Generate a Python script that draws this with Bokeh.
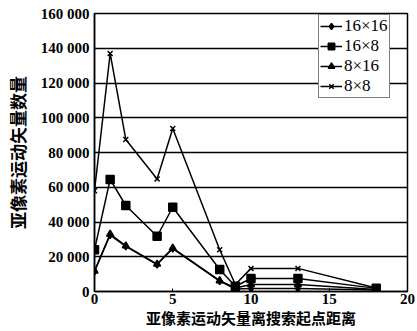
from bokeh.plotting import figure
from bokeh.models import Range1d, FixedTicker, Legend, LegendItem
from bokeh.embed import file_html
from bokeh.resources import INLINE

x_vals = [0, 1, 2, 4, 5, 8, 9, 10, 13, 18]
s16x16 = [11500, 32500, 26000, 15500, 24700, 6000, 1500, 1700, 1700, 800]
s16x8 = [24000, 64500, 49500, 31800, 48500, 12700, 3000, 7500, 7500, 1800]
s8x16 = [11800, 33000, 26300, 15800, 25000, 6200, 2000, 4000, 4000, 1200]
s8x8 = [58000, 137000, 87500, 64800, 93800, 24000, 4000, 13300, 13300, 2000]
series_names = ["16×16", "16×8", "8×16", "8×8"]
y_ticks = [0, 20000, 40000, 60000, 80000, 100000, 120000, 140000, 160000]
y_tick_labels = ["0", "20 000", "40 000", "60 000", "80 000", "100 000", "120 000", "140 000", "160 000"]
x_ticks = [0, 5, 10, 15, 20]
x_label = "亚像素运动矢量离搜索起点距离"
y_label = "亚像素运动矢量数量"

p = figure(output_backend="svg", toolbar_location=None,
           frame_width=313, frame_height=278,
           min_border_left=94, min_border_right=8, min_border_top=13, min_border_bottom=36,
           x_range=Range1d(0, 20), y_range=Range1d(0, 160000))
p.background_fill_color = "white"
p.border_fill_color = "white"
p.outline_line_color = "black"
p.outline_line_width = 1.5

p.xgrid.grid_line_color = None
p.ygrid.grid_line_color = "black"
p.ygrid.grid_line_width = 1.5
p.ygrid.ticker = FixedTicker(ticks=y_ticks)

p.yaxis.ticker = FixedTicker(ticks=y_ticks)
p.yaxis.major_label_overrides = {t: l for t, l in zip(y_ticks, y_tick_labels)}
p.xaxis.ticker = FixedTicker(ticks=x_ticks)
for ax in (p.xaxis, p.yaxis):
    ax.axis_line_color = "black"
    ax.axis_line_width = 1.5
    ax.major_tick_in = 3
    ax.major_tick_out = 0
    ax.minor_tick_line_color = None
    ax.major_tick_line_color = "black"
    ax.major_label_text_font = "Liberation Serif"
    ax.major_label_text_font_size = "15px"
    ax.major_label_text_font_style = "bold"
    ax.major_label_text_color = "black"
    ax.axis_label_text_font = "Noto Sans CJK SC"
    ax.axis_label_text_font_style = "bold"
    ax.axis_label_text_color = "black"
p.xaxis.axis_label_text_font_size = "15px"
p.yaxis.axis_label_text_font_size = "17px"
p.xaxis.major_label_standoff = 2
p.yaxis.major_label_standoff = 5
p.xaxis.axis_label = x_label
p.yaxis.axis_label = y_label
p.xaxis.axis_label_standoff = 0
p.yaxis.axis_label_standoff = 8

markers = ["diamond", "square", "triangle", "x"]
sizes = [7, 8, 7, 7]
data = [s16x16, s16x8, s8x16, s8x8]
items = []
for name, ys, mk, sz in zip(series_names, data, markers, sizes):
    r1 = p.line(x_vals, ys, line_color="black", line_width=1.5)
    r2 = p.scatter(x_vals, ys, marker=mk, size=sz, fill_color="black", line_color="black", line_width=1.5)
    items.append(LegendItem(label=name, renderers=[r1, r2]))

legend = Legend(items=items, location=(224, 193))
legend.border_line_color = "black"
legend.border_line_width = 1.2
legend.background_fill_alpha = 1
legend.padding = 1
legend.margin = 0
legend.spacing = 0
legend.label_height = 16
legend.glyph_height = 16
legend.glyph_width = 22
legend.label_standoff = 2
legend.label_text_font = "Liberation Serif"
legend.label_text_font_size = "17px"
legend.label_text_line_height = 1.0
legend.label_text_color = "black"
p.add_layout(legend, "center")

open("out.html", "w").write(file_html(p, INLINE))
